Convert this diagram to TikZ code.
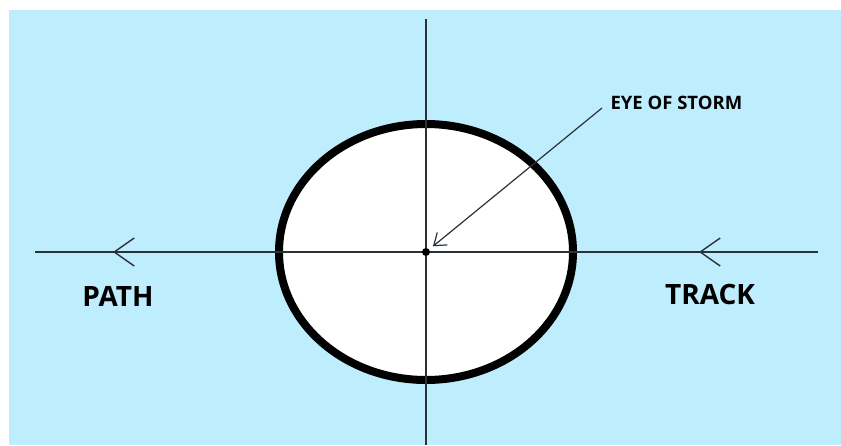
\documentclass[tikz,border=0pt]{standalone}
\usepackage{fontspec}
\setmainfont{Open Sans}
\usetikzlibrary{arrows.meta, decorations.markings}
\definecolor{stormsky}{HTML}{BEEDFD}
\definecolor{stormline}{HTML}{2B3237}

\begin{document}
\begin{tikzpicture}[x=1pt, y=-1pt,
    axisline/.style={
        draw=stormline,
        line width=1.4pt
    },
    trackline/.style={
        axisline,
        postaction={decorate},
        decoration={markings,
            mark=at position 119pt with {\arrow{Straight Barb[length=20pt, width=28pt]}},
            mark=at position 705pt with {\arrow{Straight Barb[length=20pt, width=28pt]}}}
    },
    stormring/.style={
        draw=black,
        fill=white,
        line width=8pt
    },
    biglabel/.style={
        font=\fontsize{28}{30}\selectfont\bfseries,
        text=black
    },
    smalllabel/.style={
        font=\fontsize{18.5}{20}\selectfont\bfseries,
        text=black,
        anchor=west
    }
]

% Frame and sky
\useasboundingbox (0,0) rectangle (841,445);
\fill[stormsky] (9,10) rectangle (841,445);

% Axis end points
\coordinate (eye) at (426,252);
\coordinate (topend) at (426,19);
\coordinate (bottomend) at (426,445);
\coordinate (trackend) at (818,252);
\coordinate (pathend) at (35,252);
\coordinate (eyetail) at (602,108);

% Storm body
\draw[stormring] (eye) ellipse [x radius=147, y radius=128];

% Track line, right to left, and the vertical axis
\draw[trackline] (trackend) -- (pathend);
\draw[axisline] (topend) -- (bottomend);
\fill[black] (eye) circle [radius=4pt];

% Labels
\node[biglabel] (path) at (118,296) {PATH};
\node[biglabel] (track) at (710,294) {TRACK};
\node[smalllabel] (eyelabel) at (607,103) {EYE OF STORM};

% Pointer to the eye
\draw[axisline, line width=1.2pt, -{Straight Barb[length=11pt, width=16pt]}, shorten >=9pt] (eyetail) -- (eye);

\end{tikzpicture}
\end{document}
